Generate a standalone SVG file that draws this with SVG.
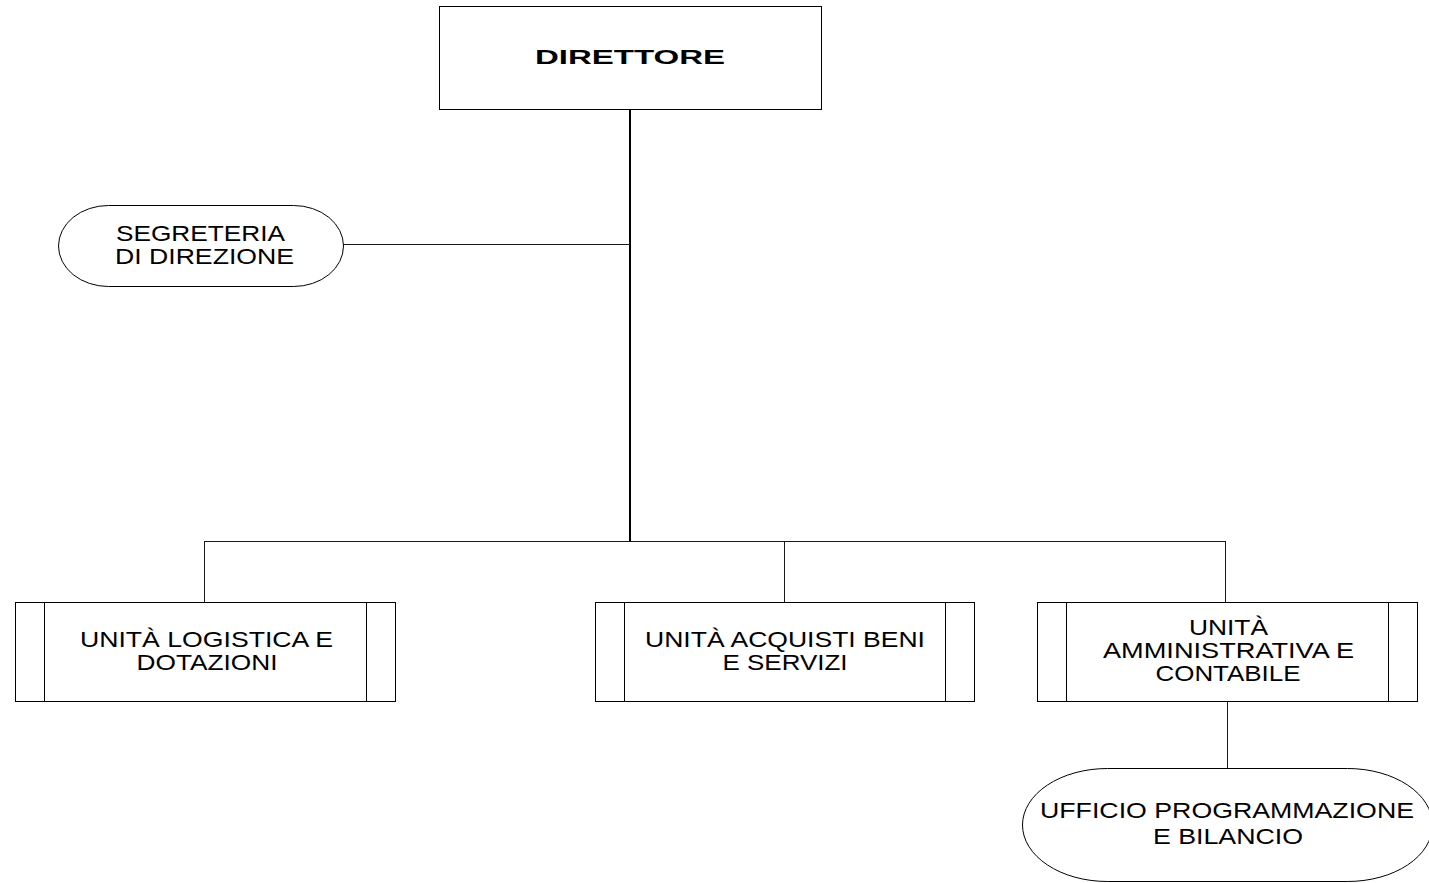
<svg xmlns="http://www.w3.org/2000/svg" width="1429" height="883" viewBox="0 0 1429 883">
<style>
.shape{fill:#fff;stroke:#000;stroke-width:1}
.conn line{stroke:#1a1a1a;stroke-width:1}
.conn line.trunk{stroke:#000;stroke-width:2}
.div{stroke:#000;stroke-width:1}
text{font-family:"Liberation Sans",Arial,sans-serif;font-size:21.5px;fill:#000;text-anchor:middle}
.bold{font-weight:bold;font-size:20.5px}
</style>
<rect x="0" y="0" width="1429" height="883" fill="#fff"/>
<g class="conn" id="connectors">
<line class="trunk" x1="630" y1="109" x2="630" y2="542"/>
<line x1="343" y1="244.5" x2="630" y2="244.5"/>
<line x1="204.5" y1="541.5" x2="1225.5" y2="541.5"/>
<line x1="204.5" y1="541" x2="204.5" y2="602"/>
<line x1="784.5" y1="541" x2="784.5" y2="602"/>
<line x1="1225.5" y1="541" x2="1225.5" y2="602"/>
<line x1="1227.5" y1="701" x2="1227.5" y2="768"/>
</g>
<g id="direttore">
<rect class="shape" x="439.5" y="6.5" width="382" height="103"/>
<text class="bold" x="630" y="64" textLength="190" lengthAdjust="spacingAndGlyphs">DIRETTORE</text>
</g>
<g id="segreteria">
<rect class="shape" x="58.5" y="205.5" width="285" height="81" rx="50" ry="40.5"/>
<text x="200.5" y="241" textLength="169" lengthAdjust="spacingAndGlyphs">SEGRETERIA</text>
<text x="204.5" y="264" textLength="179" lengthAdjust="spacingAndGlyphs">DI DIREZIONE</text>
</g>
<g id="logistica">
<rect class="shape" x="15.5" y="602.5" width="380" height="99"/>
<line class="div" x1="44.5" y1="602.5" x2="44.5" y2="701.5"/>
<line class="div" x1="366.5" y1="602.5" x2="366.5" y2="701.5"/>
<text x="206.5" y="647" textLength="253" lengthAdjust="spacingAndGlyphs">UNITÀ LOGISTICA E</text>
<text x="207" y="670" textLength="141" lengthAdjust="spacingAndGlyphs">DOTAZIONI</text>
</g>
<g id="acquisti">
<rect class="shape" x="595.5" y="602.5" width="379" height="99"/>
<line class="div" x1="624.5" y1="602.5" x2="624.5" y2="701.5"/>
<line class="div" x1="945.5" y1="602.5" x2="945.5" y2="701.5"/>
<text x="785" y="647" textLength="280" lengthAdjust="spacingAndGlyphs">UNITÀ ACQUISTI BENI</text>
<text x="785" y="670" textLength="125" lengthAdjust="spacingAndGlyphs">E SERVIZI</text>
</g>
<g id="amministrativa">
<rect class="shape" x="1037.5" y="602.5" width="380" height="99"/>
<line class="div" x1="1066.5" y1="602.5" x2="1066.5" y2="701.5"/>
<line class="div" x1="1388.5" y1="602.5" x2="1388.5" y2="701.5"/>
<text x="1228.5" y="635" textLength="79" lengthAdjust="spacingAndGlyphs">UNITÀ</text>
<text x="1228.5" y="658" textLength="251" lengthAdjust="spacingAndGlyphs">AMMINISTRATIVA E</text>
<text x="1228" y="681" textLength="145" lengthAdjust="spacingAndGlyphs">CONTABILE</text>
</g>
<g id="ufficio">
<rect class="shape" x="1022.5" y="768.5" width="410" height="113" rx="85" ry="56.5"/>
<text x="1227" y="818" textLength="374" lengthAdjust="spacingAndGlyphs">UFFICIO PROGRAMMAZIONE</text>
<text x="1228" y="844" textLength="150" lengthAdjust="spacingAndGlyphs">E BILANCIO</text>
</g>
</svg>
